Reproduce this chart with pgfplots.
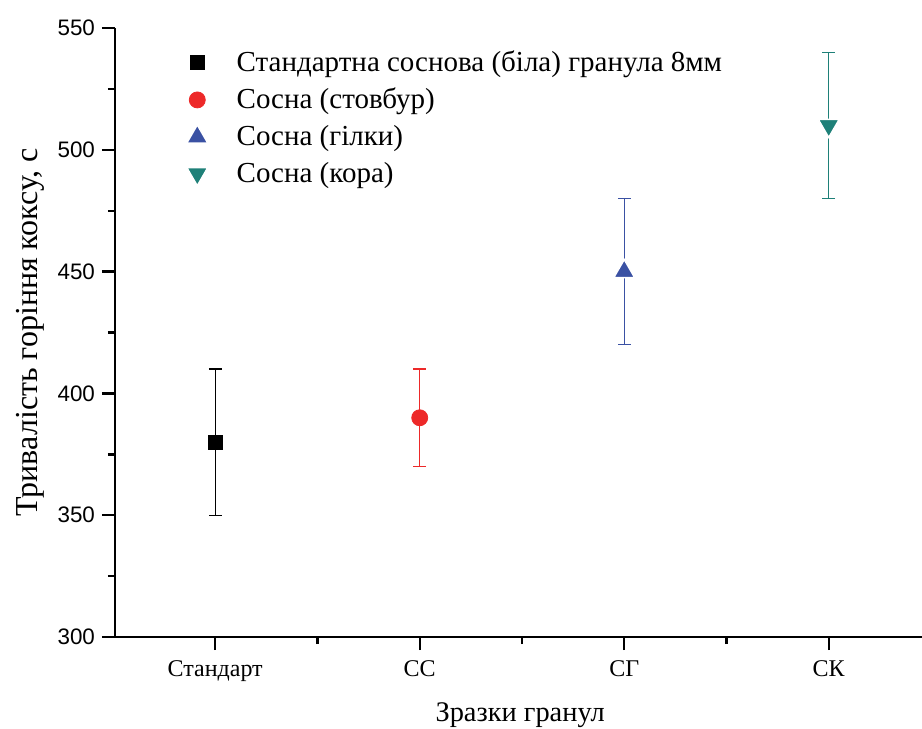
\documentclass[border=0pt]{standalone}
\usepackage{pgfplots}
\pgfplotsset{compat=1.18}
\usepackage{fontspec}
\setmainfont{Liberation Serif}
\newfontfamily\arialf{Liberation Sans}
\definecolor{cred}{RGB}{237,41,41}
\definecolor{cblue}{RGB}{58,81,163}
\definecolor{cteal}{RGB}{30,128,120}
\begin{document}
\begin{tikzpicture}
\begin{axis}[
  at={(0,0)}, anchor=south west,
  scale only axis,
  width=403.5pt, height=304.5pt,
  xmin=-0.49, xmax=3.456,
  ymin=300, ymax=550,
  axis x line*=bottom, axis y line*=left,
  axis line style={line width=1.2pt,-},
  xtick={0,1,2,3},
  xticklabels={Стандарт,СС,СГ,СК},
  minor xtick={-0.5,0.5,1.5,2.5,3.5},
  ytick={300,350,...,550},
  minor ytick={325,375,...,525},
  tick align=outside,
  major tick length=6.5pt,
  minor tick length=3.5pt,
  every tick/.style={line width=1.2pt, black},
  xticklabel style={font=\fontsize{12}{14}\selectfont, yshift=-2pt},
  yticklabel style={font=\arialf\fontsize{11.2}{13}\selectfont},
  /pgf/number format/assume math mode=true,
  xlabel={Зразки гранул},
  ylabel={Тривалість горіння коксу, с},
  xlabel style={font=\fontsize{14.2}{16}\selectfont, at={(axis description cs:0.502,-0.128)}, anchor=center},
  ylabel style={font=\fontsize{16}{18}\selectfont, at={(axis description cs:-0.105,0.5)}, anchor=center},
  legend style={draw=none, fill=none, at={(axis description cs:0.0886,0.97)}, anchor=north west,
    font=\fontsize{14.5}{17}\selectfont, row sep=2.8pt, inner sep=0pt},
  legend cell align=left,
  clip=false,
]
\addplot+[only marks, black, mark=square*, mark size=3.6pt, mark options={fill=black, draw=black},
  error bars/.cd, y dir=both, y explicit,
  error bar style={line width=0.6pt, black},
  error mark options={rotate=90, mark size=3.2pt, line width=0.6pt, black}]
  coordinates {(0,380) +- (0,30)};
\addlegendentry{\hspace{12.5pt}Стандартна соснова (біла) гранула 8мм}
\addplot+[only marks, cred, mark=*, mark size=4pt, mark options={fill=cred, draw=cred},
  error bars/.cd, y dir=both, y explicit,
  error bar style={line width=0.6pt, cred},
  error mark options={rotate=90, mark size=3.2pt, line width=0.6pt, cred}]
  coordinates {(1,390) +- (0,20)};
\addlegendentry{\hspace{12.5pt}Сосна (стовбур)}
\addplot+[only marks, cblue, mark=triangle*, mark size=6pt, mark options={fill=cblue, draw=white, line width=0.7pt},
  error bars/.cd, y dir=both, y explicit,
  error bar style={line width=0.6pt, cblue},
  error mark options={rotate=90, mark size=3.2pt, line width=0.6pt, cblue}]
  coordinates {(2,450) +- (0,30)};
\addlegendentry{\hspace{12.5pt}Сосна (гілки)}
\addplot+[only marks, cteal, mark=triangle*, mark size=6pt, mark options={rotate=180, fill=cteal, draw=white, line width=0.7pt},
  error bars/.cd, y dir=both, y explicit,
  error bar style={line width=0.6pt, cteal},
  error mark options={rotate=90, mark size=3.2pt, line width=0.6pt, cteal}]
  coordinates {(3,510) +- (0,30)};
\addlegendentry{\hspace{12.5pt}Сосна (кора)}
\end{axis}
\pgfresetboundingbox
\path (-57.5pt,-46pt) rectangle (403.5pt,318.5pt);
\end{tikzpicture}
\end{document}
